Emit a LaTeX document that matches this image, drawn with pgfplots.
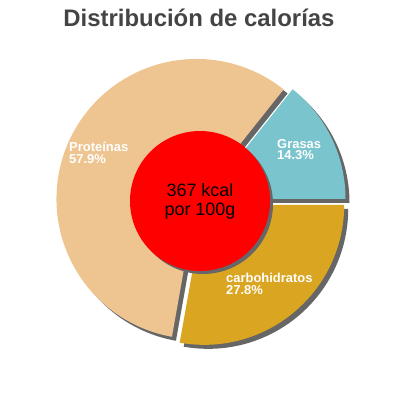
\documentclass[border=0pt]{standalone}
\usepackage{pgfplots}
\pgfplotsset{compat=1.18}
\usepackage{fontspec}
\setmainfont{Liberation Sans}
\definecolor{cP}{RGB}{238,197,145}
\definecolor{cG}{RGB}{122,197,205}
\definecolor{cC}{RGB}{218,165,32}
\definecolor{shad}{RGB}{102,102,102}
\definecolor{ttl}{RGB}{68,68,68}
% data (percent of calories)
\def\vG{14.3}
\def\vP{57.9}
\def\vC{27.8}
\def\R{140}
\def\bx{201}\def\by{201}\def\ex{5}\def\sh{4}
\pgfmathsetmacro\aGa{0}
\pgfmathsetmacro\aGb{\vG*3.6}
\pgfmathsetmacro\aPb{(\vG+\vP)*3.6}
\pgfmathsetmacro\aCb{360}
\pgfmathsetmacro\mG{(\aGa+\aGb)/2}
\pgfmathsetmacro\mP{(\aGb+\aPb)/2}
\pgfmathsetmacro\mC{(\aPb+\aCb)/2}
\pgfmathsetmacro\xG{\bx+\ex*cos(\mG)}\pgfmathsetmacro\yG{\by-\ex*sin(\mG)}
\pgfmathsetmacro\xP{\bx+\ex*cos(\mP)}\pgfmathsetmacro\yP{\by-\ex*sin(\mP)}
\pgfmathsetmacro\xC{\bx+\ex*cos(\mC)}\pgfmathsetmacro\yC{\by-\ex*sin(\mC)}
\pgfmathsetmacro\xGs{\xG+\sh}\pgfmathsetmacro\yGs{\yG+\sh}
\pgfmathsetmacro\xPs{\xP+\sh}\pgfmathsetmacro\yPs{\yP+\sh}
\pgfmathsetmacro\xCs{\xC+\sh}\pgfmathsetmacro\yCs{\yC+\sh}
\newcommand\slice[5]{%
  \addplot[fill=#1, draw=none, domain=#2:#3, samples=120] ({#4+\R*cos(x)},{#5-\R*sin(x)}) -- (axis cs:#4,#5) -- cycle;}
\begin{document}
\begin{tikzpicture}
\begin{axis}[
  scale only axis, width=400bp, height=400bp,
  xmin=0, xmax=400, ymin=0, ymax=400, y dir=reverse,
  hide axis, clip=false]
\path (axis cs:0,0) rectangle (axis cs:400,400);
% shadows
\slice{shad}{\aGa}{\aGb}{\xGs}{\yGs}
\slice{shad}{\aGb}{\aPb}{\xPs}{\yPs}
\slice{shad}{\aPb}{\aCb}{\xCs}{\yCs}
% slices
\slice{cG}{\aGa}{\aGb}{\xG}{\yG}
\slice{cP}{\aGb}{\aPb}{\xP}{\yP}
\slice{cC}{\aPb}{\aCb}{\xC}{\yC}
% centre disc
\addplot[fill=shad, draw=none, domain=0:360, samples=120] ({203+70*cos(x)},{204-70*sin(x)}) -- cycle;
\addplot[fill=red, draw=none, domain=0:360, samples=120] ({200+70*cos(x)},{201-70*sin(x)}) -- cycle;
% texts
\node[font=\bfseries\fontsize{24}{26}\selectfont, text=ttl] at (axis cs:199,18) {Distribución de calorías};
\node[font=\fontsize{18}{19}\selectfont, align=center, text=black] at (axis cs:200,201) {367 kcal\\por 100g};
\node[anchor=north west, inner sep=0pt, align=left, text=white, font=\bfseries\fontsize{13}{11.5}\selectfont] at (axis cs:69,142) {Proteínas\\57.9\%};
\node[anchor=north west, inner sep=0pt, align=left, text=white, font=\bfseries\fontsize{13}{11.5}\selectfont] at (axis cs:277,139) {Grasas\\14.3\%};
\node[anchor=north west, inner sep=0pt, align=left, text=white, font=\bfseries\fontsize{13}{11.5}\selectfont] at (axis cs:226,273) {carbohidratos\\27.8\%};
\end{axis}
\end{tikzpicture}
\end{document}
